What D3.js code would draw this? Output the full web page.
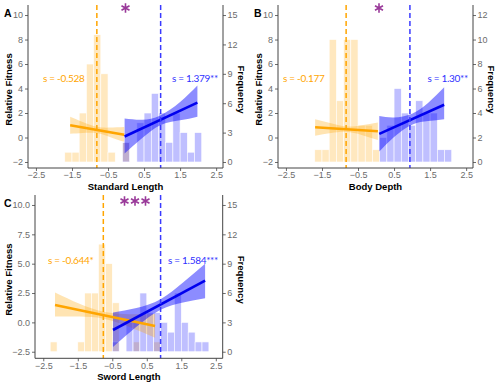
<!DOCTYPE html>
<html>
<head>
<meta charset="utf-8">
<script src="https://cdn.jsdelivr.net/npm/d3@7"></script>
<style>
  body { margin: 0; background: #fff; }
  svg { display: block; }
</style>
</head>
<body>
<main></main>
<script>
// ---- data ----
var binWidth = 0.2;
var xTicks = [-2.5, -1.5, -0.5, 0.5, 1.5, 2.5];
var fitTicksAB = [-2, 0, 2, 4, 6, 8, 10];
var fitTicksC = [-2.5, 0, 2.5, 5, 7.5, 10];
var freqTicksA = [0, 3, 6, 9, 12, 15];
var freqTicksB = [0, 2, 4, 6, 8, 10, 12];
var freqTicksC = [0, 3, 6, 9, 12, 15];

var panelLetters = ["A", "B", "C"];
var traitNames = ["Standard Length", "Body Depth", "Sword Length"];
var starCounts = [1, 1, 3];
var orangeLabels = ["s = -0.528", "s = -0.177", "s = -0.644*"];
var blueLabels = ["s = 1.379**", "s = 1.30**", "s = 1.584***"];

// histograms: first bin edge + counts per 0.2 bin
var orangeStart = [-1.7, -1.7, -2.3];
var orangeCounts = [
    [1, 1, 5, 10, 13, 9, 1, 0, 2],
    [1, 1, 10, 5, 10, 10, 3, 3, 1],
    [1, 0, 0, 0, 1, 6, 6, 11, 9, 5, 0, 0, 1, 0, 0, 1]
];
var blueStart = [-0.1, 0.1, -0.5];
var blueCounts = [
    [2, 0, 4, 5, 7, 5, 2, 5, 3, 1, 3],
    [2, 3, 6, 4, 3, 5, 4, 4, 1, 1],
    [1, 0, 3, 3, 6, 4, 4, 3, 2, 6, 3, 2, 1, 1]
];
var orangeMean = [-0.81, -0.83, -0.76];
var blueMean = [0.96, 0.94, 0.90];

// fitted lines: [x0, y0, x1, y1]
var orangeFit = [[-1.55, 1.0, -0.05, 0.22], [-1.69, 0.84, 0.05, 0.51], [-2.16, 1.48, 0.74, -0.31]];
var blueFit = [[-0.04, 0.08, 1.98, 2.85], [0.09, 0.3, 1.89, 2.67], [-0.48, -0.65, 2.19, 3.55]];

// confidence bands: [x, lower, upper]
var orangeBand = [
    [[-1.55, 0.3, 1.7], [-1.2, 0.37, 1.27], [-0.8, 0.34, 0.88], [-0.45, 0.05, 0.81], [-0.05, -0.35, 0.85]],
    [[-1.69, 0.15, 1.5], [-1.25, 0.36, 1.16], [-0.82, 0.46, 0.9], [-0.4, 0.2, 1.0], [0.05, -0.21, 1.23]],
    [[-2.16, 0.5, 2.55], [-1.45, 0.49, 1.59], [-0.75, 0.31, 0.91], [0.0, -0.4, 0.7], [0.74, -1.3, 0.72]]
];
var blueBand = [
    [[-0.04, -1.3, 1.55], [0.45, -0.05, 1.45], [0.95, 1.0, 1.8], [1.5, 1.4, 2.9], [1.98, 1.7, 4.25]],
    [[0.09, -1.15, 1.75], [0.5, 0.04, 1.64], [1.0, 1.05, 1.95], [1.45, 1.34, 2.84], [1.89, 1.5, 4.1]],
    [[-0.48, -2.1, 0.85], [0.2, -0.38, 1.22], [0.9, 1.07, 1.97], [1.55, 1.69, 3.39], [2.19, 2.05, 5.0]]
];

// ---- layout ----
var panels = [
    {ox: 0, left: 28, right: 223, top: 5, bottom: 168, x: [-2.72, 2.69], y: [-2.49, 10.82],
     fq: [0, 15], fqFit: [-2, 10], fitTicks: fitTicksAB, freqTicks: freqTicksA, fmt: d3.format("d"),
     oLab: [43, 82], bLab: [218, 82], star: [125.5, 8], titleY: 189.5},
    {ox: 250, left: 278, right: 473, top: 5, bottom: 168, x: [-2.72, 2.69], y: [-2.49, 10.82],
     fq: [0, 12], fqFit: [-2, 10], fitTicks: fitTicksAB, freqTicks: freqTicksB, fmt: d3.format("d"),
     oLab: [283, 82], bLab: [468, 82], star: [379, 8], titleY: 189.5},
    {ox: 0, left: 35, right: 222.7, top: 195, bottom: 358.3, x: [-2.74, 2.70], y: [-3.06, 10.85],
     fq: [0, 15], fqFit: [-2.5, 10], fitTicks: fitTicksC, freqTicks: freqTicksC, fmt: d3.format(".1f"),
     oLab: [48, 264], bLab: [218, 264], star: [135, 201], titleY: 379.5}
];

var orange = "#ffa500",
    purple = "#9a3a9a",
    axisCol = "#444",
    tickCol = "#6b6b6b";

var svg = d3.select("main").append("svg")
    .attr("width", 500)
    .attr("height", 385)
    .style("font-family", "'Liberation Sans', Arial, sans-serif");

panels.forEach(function (p, k) {
    var g = svg.append("g");
    var x = d3.scaleLinear().domain(p.x).range([p.left, p.right]),
        y = d3.scaleLinear().domain(p.y).range([p.bottom, p.top]),
        yf = d3.scaleLinear().domain(p.fq).range([y(p.fqFit[0]), y(p.fqFit[1])]);

    // histograms
    function bars(start, counts, col) {
        g.append("g").selectAll("rect")
            .data(counts.map(function (c, i) { return {x0: start + i * binWidth, c: c}; })
                .filter(function (d) { return d.c > 0; }))
            .join("rect")
            .attr("x", function (d) { return x(d.x0); })
            .attr("width", function (d) { return x(d.x0 + binWidth) - x(d.x0); })
            .attr("y", function (d) { return yf(d.c); })
            .attr("height", function (d) { return yf(0) - yf(d.c); })
            .attr("fill", col)
            .attr("fill-opacity", 0.25)
            .attr("stroke", "#fff")
            .attr("stroke-width", 0.6);
    }
    bars(orangeStart[k], orangeCounts[k], orange);
    bars(blueStart[k], blueCounts[k], "#0000ff");

    // bands and fits
    var area = d3.area()
        .x(function (d) { return x(d[0]); })
        .y0(function (d) { return y(d[1]); })
        .y1(function (d) { return y(d[2]); })
        .curve(d3.curveNatural);
    g.append("path").attr("d", area(orangeBand[k]))
        .attr("fill", orange).attr("fill-opacity", 0.3);
    g.append("path").attr("d", area(blueBand[k]))
        .attr("fill", "#0000ff").attr("fill-opacity", 0.45);

    [[orangeFit[k], orange], [blueFit[k], "#0000ee"]].forEach(function (f) {
        g.append("line")
            .attr("x1", x(f[0][0])).attr("y1", y(f[0][1]))
            .attr("x2", x(f[0][2])).attr("y2", y(f[0][3]))
            .attr("stroke", f[1]).attr("stroke-width", 2.6);
    });

    // mean lines
    [[orangeMean[k], orange], [blueMean[k], "#3a3aff"]].forEach(function (m) {
        g.append("line")
            .attr("x1", x(m[0])).attr("x2", x(m[0]))
            .attr("y1", p.top).attr("y2", p.bottom)
            .attr("stroke", m[1]).attr("stroke-width", 1.5)
            .attr("stroke-dasharray", "5,3");
    });

    // axes
    var ax = g.append("g").attr("transform", "translate(0," + p.bottom + ")")
        .call(d3.axisBottom(x).tickValues(xTicks).tickSize(3).tickPadding(1));
    var ay = g.append("g").attr("transform", "translate(" + p.left + ",0)")
        .call(d3.axisLeft(y).tickValues(p.fitTicks).tickFormat(p.fmt).tickSize(3).tickPadding(2));
    var ar = g.append("g").attr("transform", "translate(" + p.right + ",0)")
        .call(d3.axisRight(yf).tickValues(p.freqTicks).tickSize(3).tickPadding(1.5));
    [ax, ay, ar].forEach(function (a) {
        a.select(".domain").remove();
        a.selectAll(".tick line").attr("stroke", tickCol);
        a.selectAll("text").attr("fill", tickCol).style("font-size", "9px");
    });
    g.append("path")
        .attr("d", "M" + p.left + "," + p.top + "V" + p.bottom + "H" + p.right + "V" + p.top)
        .attr("fill", "none").attr("stroke", axisCol).attr("stroke-width", 1);

    // titles
    g.append("text").attr("x", (p.left + p.right) / 2).attr("y", p.titleY)
        .attr("text-anchor", "middle").style("font-size", "9.5px").style("font-weight", "bold")
        .text(traitNames[k]);
    var cy = (p.top + p.bottom) / 2 + 3;
    g.append("text").attr("transform", "translate(" + (p.ox + 11.5) + "," + cy + ") rotate(-90)")
        .attr("text-anchor", "middle").style("font-size", "9.5px").style("font-weight", "bold")
        .text("Relative Fitness");
    g.append("text").attr("transform", "translate(" + (p.right + 15) + "," + cy + ") rotate(90)")
        .attr("text-anchor", "middle").style("font-size", "9.5px").style("font-weight", "bold")
        .text("Frequency");
    g.append("text").attr("x", p.ox + 4).attr("y", p.top + 12)
        .style("font-size", "10.5px").style("font-weight", "bold")
        .text(panelLetters[k]);

    // selection labels
    g.append("text").attr("x", p.oLab[0]).attr("y", p.oLab[1])
        .style("font-family", "Lato, sans-serif").style("font-size", "10px")
        .style("letter-spacing", "-0.3px")
        .attr("fill", orange).text(orangeLabels[k]);
    g.append("text").attr("x", p.bLab[0]).attr("y", p.bLab[1])
        .attr("text-anchor", "end")
        .style("font-family", "Lato, sans-serif").style("font-size", "10px")
        .style("letter-spacing", "-0.3px")
        .attr("fill", "#2f2fff").text(blueLabels[k]);

    // significance stars
    var sym = d3.symbol().type(d3.symbolAsterisk || d3.symbolCross).size(60);
    d3.range(starCounts[k]).forEach(function (i) {
        var cx = p.star[0] + (i - (starCounts[k] - 1) / 2) * 10.5;
        g.append("path").attr("d", sym())
            .attr("transform", "translate(" + cx + "," + p.star[1] + ")")
            .attr("fill", "none").attr("stroke", purple).attr("stroke-width", 1.6);
    });
});
</script>
</body>
</html>
